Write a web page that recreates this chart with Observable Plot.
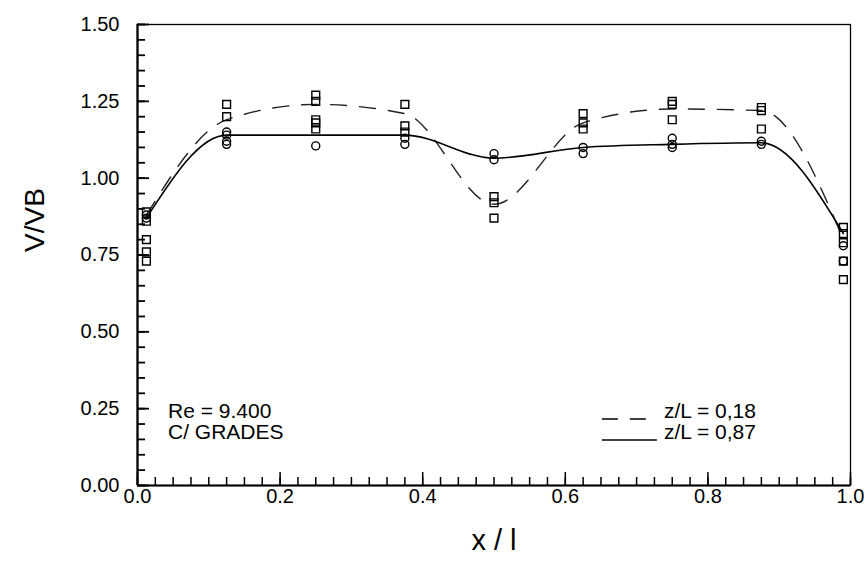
<!DOCTYPE html>
<html>
<head>
<meta charset="utf-8">
<script src="https://cdn.jsdelivr.net/npm/d3@7"></script>
<script src="https://cdn.jsdelivr.net/npm/@observablehq/plot@0.6"></script>
<style>
  html, body { margin: 0; padding: 0; background: #fff; }
  #chart { width: 866px; height: 562px; }
</style>
</head>
<body>
<div id="chart"></div>
<script>
// Measurement stations along x/l
const stations = [0.0125, 0.125, 0.25, 0.375, 0.5, 0.625, 0.75, 0.875, 0.99];
// Square markers (readings) at each station
const squareValues = [
  [0.89, 0.86, 0.80, 0.76, 0.73],
  [1.24, 1.20],
  [1.27, 1.25, 1.19, 1.18, 1.16],
  [1.24, 1.17, 1.15],
  [0.94, 0.92, 0.87],
  [1.21, 1.18, 1.16],
  [1.25, 1.24, 1.19],
  [1.23, 1.22, 1.16],
  [0.84, 0.82, 0.79, 0.73, 0.67]
];
// Circle markers at each station
const circleValues = [
  [0.88, 0.87],
  [1.15, 1.14, 1.12, 1.11],
  [1.105],
  [1.13, 1.11],
  [1.08, 1.06],
  [1.10, 1.08],
  [1.13, 1.11, 1.10],
  [1.12, 1.11],
  [0.78, 0.73]
];
// Fitted curves
const curve018 = [0.88, 1.19, 1.24, 1.21, 0.915, 1.18, 1.225, 1.22, 0.80];  // z/L = 0,18 (dashed)
const curve087 = [0.87, 1.14, 1.14, 1.14, 1.065, 1.10, 1.11, 1.115, 0.82]; // z/L = 0,87 (solid)

const yMajor = [0, 0.25, 0.5, 0.75, 1.0, 1.25, 1.5];
const xMajor = [0, 0.2, 0.4, 0.6, 0.8, 1.0];
const annotation = ["Re = 9.400", "C/ GRADES"];
const legendLabels = ["z/L = 0,18", "z/L = 0,87"];

const squares = stations.flatMap((x, i) => squareValues[i].map(v => ({x, v})));
const circles = stations.flatMap((x, i) => circleValues[i].map(v => ({x, v})));
const dashed = stations.map((x, i) => ({x, v: curve018[i]}));
const solid = stations.map((x, i) => ({x, v: curve087[i]}));

const yMinor = d3.range(0, 1.5001, 0.05).map(d => +d.toFixed(2));
const xMinor = d3.range(0, 1.0001, 0.025).map(d => +d.toFixed(3));

const font = "'Liberation Sans', Arial, sans-serif";

// tick lengths in data units of the perpendicular axis (≈713 px per x unit, ≈307 px per y unit)
const yTickMinor = 8 / 713, yTickMajor = 12 / 713;
const xTickMinor = 8 / 307, xTickMajor = 13 / 307;

const chart = Plot.plot({
  width: 866,
  height: 562,
  marginLeft: 137,
  marginRight: 16,
  marginTop: 24,
  marginBottom: 77,
  style: {fontFamily: font, fontSize: "20px", color: "#000", background: "#fff"},
  x: {domain: [0, 1]},
  y: {domain: [0, 1.5]},
  marks: [
    Plot.frame({stroke: "#000", strokeWidth: 1.3}),
    Plot.axisY(yMajor, {tickSize: 0, tickPadding: 18, tickFormat: d3.format(".2f"), label: null, fontSize: 20}),
    Plot.axisX(xMajor, {tickSize: 0, tickPadding: 3, tickFormat: d3.format(".1f"), label: null, fontSize: 20}),
    // inward ticks
    Plot.ruleY(yMinor, {y: d => d, x1: 0, x2: yTickMinor, stroke: "#000", strokeWidth: 1.8}),
    Plot.ruleY(yMajor, {y: d => d, x1: 0, x2: yTickMajor, stroke: "#000", strokeWidth: 1.8}),
    Plot.ruleX(xMinor, {x: d => d, y1: 0, y2: xTickMinor, stroke: "#000", strokeWidth: 1.5}),
    Plot.ruleX(xMajor, {x: d => d, y1: 0, y2: xTickMajor, stroke: "#000", strokeWidth: 1.5}),
    Plot.ruleX([0], {stroke: "#000", strokeWidth: 2.2}),
    Plot.ruleY([0], {stroke: "#000", strokeWidth: 2.2}),
    // curves
    Plot.line(dashed, {x: "x", y: "v", curve: "monotone-x", stroke: "#222", strokeWidth: 1.4, strokeDasharray: "16,13"}),
    Plot.line(solid, {x: "x", y: "v", curve: "monotone-x", stroke: "#000", strokeWidth: 1.6}),
    // markers
    Plot.dot(squares, {x: "x", y: "v", symbol: "square", r: 4.4, stroke: "#000", strokeWidth: 1.4, fill: "none"}),
    Plot.dot(circles, {x: "x", y: "v", symbol: "circle", r: 4, stroke: "#000", strokeWidth: 1.4, fill: "none"}),
    // axis titles
    Plot.text(["x / l"], {frameAnchor: "bottom", dy: 64, fontSize: 29, fill: "#000"}),
    Plot.text(["V/VB"], {frameAnchor: "left", dx: -102, dy: -3, rotate: -90, fontSize: 28, fill: "#000"})
  ]
});
document.getElementById("chart").appendChild(chart);

const NS = "http://www.w3.org/2000/svg";
const xs = chart.scale("x"), ys = chart.scale("y");
const x0 = xs.apply(0), y0 = ys.apply(0);

function addLine(parent, x1, y1, x2, y2, w, dash) {
  const l = document.createElementNS(NS, "line");
  l.setAttribute("x1", x1); l.setAttribute("y1", y1);
  l.setAttribute("x2", x2); l.setAttribute("y2", y2);
  l.setAttribute("stroke", "#000");
  l.setAttribute("stroke-width", w);
  if (dash) l.setAttribute("stroke-dasharray", dash);
  parent.appendChild(l);
}
function addText(parent, x, y, t) {
  const e = document.createElementNS(NS, "text");
  e.setAttribute("x", x); e.setAttribute("y", y); e.setAttribute("dy", "0.35em");
  e.setAttribute("text-anchor", "start");
  e.setAttribute("font-family", font); e.setAttribute("font-size", 21);
  e.setAttribute("fill", "#000");
  e.textContent = t;
  parent.appendChild(e);
}

const g = document.createElementNS(NS, "g");
chart.appendChild(g);

// annotation
annotation.forEach((t, i) => addText(g, x0 + 31, y0 - 74 + i * 21, t));

// legend
const lx = xs.apply(0.652);
legendLabels.forEach((lab, i) => {
  const y = y0 - 74 + i * 21;
  addLine(g, lx, y + 8, lx + 55, y + 8, 1.5, i === 0 ? "16,12" : null);
  addText(g, lx + 62, y, lab);
});
</script>
</body>
</html>
